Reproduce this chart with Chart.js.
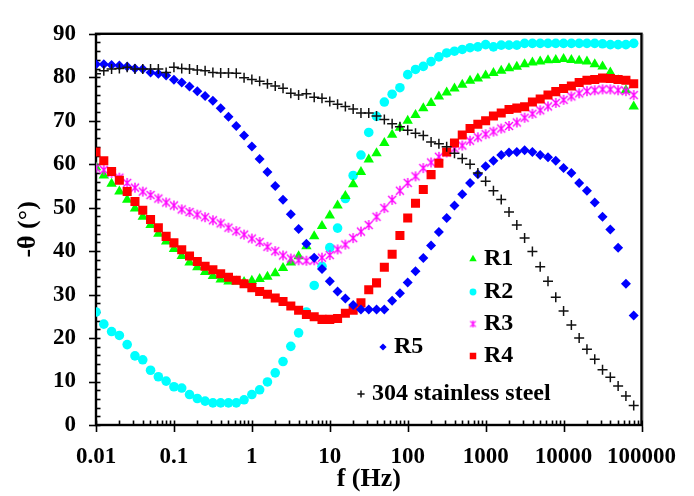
<!DOCTYPE html>
<html>
<head>
<meta charset="utf-8">
<script src="https://cdn.jsdelivr.net/npm/chart.js@4.4.1/dist/chart.umd.min.js"></script>
<style>
  html, body { margin: 0; padding: 0; background: #fff; }
  #wrap { width: 694px; height: 496px; }
</style>
</head>
<body>
<div id="wrap"><canvas id="phaseChart" width="694" height="496"></canvas></div>
<script>
// frequencies (Hz), 10 points per decade
const freqs = [
  0.01, 0.01259, 0.01585, 0.01995, 0.02512, 0.03162, 0.03981, 0.05012, 0.0631, 0.07943,
  0.1, 0.1259, 0.1585, 0.1995, 0.2512, 0.3162, 0.3981, 0.5012, 0.631, 0.7943,
  1, 1.259, 1.585, 1.995, 2.512, 3.162, 3.981, 5.012, 6.31, 7.943,
  10, 12.59, 15.85, 19.95, 25.12, 31.62, 39.81, 50.12, 63.1, 79.43,
  100, 125.9, 158.5, 199.5, 251.2, 316.2, 398.1, 501.2, 631, 794.3,
  1000, 1259, 1585, 1995, 2512, 3162, 3981, 5012, 6310, 7943,
  10000, 12590, 15850, 19950, 25120, 31620, 39810, 50120, 63100, 79430
];

const r1 = [
  59.3, 57.4, 55.5, 53.7, 51.8, 49.8, 47.9, 46.0, 44.0, 42.2,
  40.5, 38.9, 37.4, 36.3, 35.2, 34.3, 33.5, 33.0, 33.0, 32.9,
  33.2, 33.6, 34.1, 34.9, 36.1, 37.4, 38.8, 41.1, 43.4, 45.8,
  48.2, 50.5, 52.7, 55.4, 58.2, 61.1, 62.5, 64.9, 66.8, 68.4,
  70.0, 71.3, 72.9, 74.1, 75.6, 76.5, 77.4, 78.3, 79.2, 79.7,
  80.4, 81.0, 81.5, 82.1, 82.4, 83.0, 83.4, 83.6, 83.9, 84.0,
  84.2, 84.0, 83.8, 83.6, 83.0, 82.5, 81.1, 79.3, 77.0, 73.3
];
const r2 = [
  26.0, 23.2, 21.5, 20.6, 18.5, 15.9, 15.0, 12.6, 11.1, 10.1,
  8.8, 8.5, 7.0, 6.1, 5.5, 5.1, 5.1, 5.1, 5.1, 5.8,
  7.0, 8.1, 9.9, 12.0, 14.6, 18.1, 21.2, 26.0, 32.1, 36.5,
  40.8, 45.3, 52.1, 57.4, 62.1, 67.3, 71.0, 74.3, 76.1, 77.6,
  80.6, 81.8, 82.5, 83.6, 84.7, 85.6, 86.0, 86.4, 86.8, 87.0,
  87.5, 87.0, 87.4, 87.4, 87.4, 87.8, 87.8, 87.8, 87.8, 87.8,
  87.8, 87.8, 87.8, 87.8, 87.8, 87.7, 87.5, 87.5, 87.5, 87.8
];
const r3 = [
  59.2, 58.7, 58.0, 56.9, 55.7, 54.6, 53.7, 52.9, 52.1, 51.2,
  50.5, 49.6, 49.0, 48.4, 47.8, 47.1, 46.4, 45.4, 44.6, 43.8,
  42.9, 42.1, 41.0, 40.0, 39.0, 38.3, 37.9, 37.8, 37.9, 38.5,
  39.1, 40.4, 41.5, 43.0, 44.5, 46.0, 47.9, 49.9, 51.8, 53.9,
  55.7, 57.2, 59.1, 60.4, 61.7, 62.7, 63.6, 64.3, 65.4, 66.2,
  66.9, 67.5, 68.2, 68.8, 69.6, 70.7, 71.6, 72.4, 73.3, 74.1,
  74.8, 75.6, 76.3, 76.8, 77.0, 77.2, 77.2, 77.0, 76.8, 75.9
];
const r4 = [
  62.8, 60.8, 58.3, 56.3, 53.7, 51.4, 49.4, 47.3, 45.4, 43.4,
  41.9, 40.3, 38.9, 37.6, 36.5, 35.7, 34.8, 34.0, 33.3, 32.5,
  31.6, 30.7, 30.1, 29.2, 28.4, 27.4, 26.4, 25.4, 24.9, 24.3,
  24.3, 24.5, 25.7, 26.4, 28.1, 31.1, 32.7, 36.3, 39.3, 43.6,
  47.6, 51.0, 54.2, 57.6, 60.2, 62.8, 64.9, 66.7, 68.2, 69.2,
  70.0, 71.1, 71.8, 72.6, 72.9, 73.2, 74.3, 75.0, 75.9, 76.7,
  77.4, 78.0, 78.8, 79.3, 79.5, 79.8, 79.7, 79.5, 79.3, 78.5
];
const r5 = [
  83.0, 83.0, 82.8, 82.7, 82.5, 82.0, 81.9, 81.1, 80.8, 80.4,
  79.4, 78.8, 77.9, 76.8, 75.7, 74.6, 72.9, 70.9, 68.8, 66.6,
  64.1, 61.2, 58.2, 55.0, 51.8, 48.5, 45.1, 41.7, 38.5, 35.9,
  33.1, 30.7, 29.1, 27.6, 26.6, 26.6, 26.6, 26.6, 28.6, 30.3,
  32.8, 35.4, 38.4, 41.3, 44.4, 47.6, 50.5, 53.1, 55.7, 57.7,
  59.5, 60.8, 62.1, 62.7, 62.8, 63.2, 62.8, 62.1, 61.6, 60.8,
  59.1, 58.0, 55.7, 53.9, 51.2, 47.9, 45.0, 40.8, 32.5, 25.2
];
const steel304 = [
  80.8, 81.5, 81.9, 82.0, 82.3, 81.9, 81.9, 81.9, 81.9, 81.1,
  82.3, 82.0, 81.9, 81.7, 81.5, 81.1, 81.0, 81.0, 80.9, 79.9,
  79.5, 79.1, 78.5, 78.0, 77.5, 76.3, 75.9, 76.2, 75.4, 75.2,
  74.4, 73.8, 73.3, 72.7, 71.8, 71.8, 71.1, 70.3, 69.3, 68.6,
  67.8, 67.1, 66.6, 65.1, 64.7, 64.0, 62.5, 61.3, 60.0, 58.0,
  56.1, 53.9, 51.9, 49.0, 46.0, 43.0, 39.9, 36.4, 33.1, 29.4,
  26.2, 23.0, 20.0, 17.4, 15.1, 12.7, 11.0, 9.0, 6.7, 4.5
];

const xTickValues = [0.01, 0.1, 1, 10, 100, 1000, 10000, 100000];
const xTickLabels = ['0.01', '0.1', '1', '10', '100', '1000', '10000', '100000'];
const yTickValues = [0, 10, 20, 30, 40, 50, 60, 70, 80, 90];

const serif = '"Liberation Serif", "Times New Roman", serif';

// excel style "star" marker: an X with a vertical stroke
function makeStar(color, size, lw) {
  const c = document.createElement('canvas');
  c.width = size;
  c.height = size;
  const g = c.getContext('2d');
  const m = size / 2, r = size / 2 - 1;
  g.strokeStyle = color;
  g.lineWidth = lw;
  g.beginPath();
  g.moveTo(m - r * 0.8, m - r * 0.8); g.lineTo(m + r * 0.8, m + r * 0.8);
  g.moveTo(m + r * 0.8, m - r * 0.8); g.lineTo(m - r * 0.8, m + r * 0.8);
  g.moveTo(m, m - r); g.lineTo(m, m + r);
  g.stroke();
  return c;
}

const starBig = makeStar('#ff00ff', 12, 1.4);
const starSmall = makeStar('#ff00ff', 9, 1.2);

function toPoints(values) {
  return freqs.map((f, i) => ({ x: f, y: values[i] }));
}

// first dataset ends up on top
const datasets = [
  { label: '304 stainless steel', data: toPoints(steel304), pointStyle: 'cross', pointRadius: 5,
    borderColor: '#111', backgroundColor: '#111', pointBorderWidth: 1.5 },
  { label: 'R5', data: toPoints(r5), pointStyle: 'rectRot', pointRadius: 5,
    borderColor: '#0000ff', backgroundColor: '#0000ff', pointBorderWidth: 0 },
  { label: 'R4', data: toPoints(r4), pointStyle: 'rect', pointRadius: 6.4,
    borderColor: '#ff0000', backgroundColor: '#ff0000', pointBorderWidth: 0 },
  { label: 'R3', data: toPoints(r3), pointStyle: starBig, pointRadius: 6,
    borderColor: '#ff00ff', backgroundColor: '#ff00ff', pointBorderWidth: 0 },
  { label: 'R1', data: toPoints(r1), pointStyle: 'triangle', pointRadius: 6,
    borderColor: '#00ee00', backgroundColor: '#00ff00', pointBorderWidth: 0 },
  { label: 'R2', data: toPoints(r2), pointStyle: 'circle', pointRadius: 4.8,
    borderColor: '#00ffff', backgroundColor: '#00ffff', pointBorderWidth: 0 }
];

// axis box + tick marks, drawn under the points
const framePlugin = {
  id: 'frame',
  beforeDatasetsDraw(chart) {
    const { ctx, chartArea: a, scales: { x, y } } = chart;
    ctx.save();
    ctx.strokeStyle = '#000';
    ctx.lineWidth = 1.6;
    for (let v = 0; v <= 90; v += 2) {
      const py = Math.round(y.getPixelForValue(v)) + 0.5;
      ctx.beginPath();
      ctx.moveTo(v % 10 === 0 ? a.left - 7 : a.left, py);
      ctx.lineTo(a.left + 4.5, py);
      ctx.stroke();
    }
    xTickValues.forEach((dec, k) => {
      const px = Math.round(x.getPixelForValue(dec)) + 0.5;
      ctx.beginPath();
      ctx.moveTo(px, a.bottom - 4.5);
      ctx.lineTo(px, a.bottom + 7);
      ctx.stroke();
      if (k === xTickValues.length - 1) return;
      for (let m = 2; m <= 9; m++) {
        const pm = Math.round(x.getPixelForValue(dec * m)) + 0.5;
        ctx.beginPath();
        ctx.moveTo(pm, a.bottom - 4.5);
        ctx.lineTo(pm, a.bottom);
        ctx.stroke();
      }
    });
    ctx.strokeStyle = '#c8c8c8';
    ctx.lineWidth = 1;
    ctx.beginPath();
    ctx.moveTo(a.right + 2, a.top);
    ctx.lineTo(a.right + 2, a.bottom + 2);
    ctx.stroke();
    ctx.strokeStyle = '#000';
    ctx.lineWidth = 2.4;
    ctx.strokeRect(a.left, a.top, a.right - a.left, a.bottom - a.top);
    ctx.restore();
  }
};

// legend scattered inside the plot like the original
const legendPlugin = {
  id: 'looseLegend',
  afterDatasetsDraw(chart) {
    const { ctx } = chart;
    const spots = [
      { label: 'R1', x: 473, y: 259 },
      { label: 'R2', x: 473, y: 292 },
      { label: 'R3', x: 473, y: 324 },
      { label: 'R4', x: 473, y: 356 },
      { label: 'R5', x: 383, y: 347 },
      { label: '304 stainless steel', x: 361, y: 394 }
    ];
    ctx.save();
    spots.forEach(s => {
      const ds = chart.data.datasets.find(d => d.label === s.label);
      const style = ds.pointStyle === starBig ? starSmall : ds.pointStyle;
      ctx.fillStyle = ds.backgroundColor;
      ctx.strokeStyle = ds.borderColor;
      ctx.lineWidth = ds.pointBorderWidth || 1;
      Chart.helpers.drawPoint(ctx, {
        pointStyle: style, radius: ds.pointRadius * 0.72, rotation: 0,
        borderWidth: ds.pointBorderWidth
      }, s.x, s.y);
      ctx.fillStyle = '#000';
      ctx.font = 'bold 24px ' + serif;
      ctx.textAlign = 'left';
      ctx.textBaseline = 'middle';
      ctx.fillText(s.label, s.x + 11, s.y);
    });
    ctx.restore();
  }
};

new Chart(document.getElementById('phaseChart'), {
  type: 'scatter',
  data: { datasets },
  options: {
    responsive: false,
    devicePixelRatio: 1,
    animation: false,
    events: [],
    layout: { padding: { left: 0, top: 24, right: 39, bottom: 0 } },
    plugins: { legend: { display: false }, tooltip: { enabled: false } },
    scales: {
      x: {
        type: 'logarithmic',
        min: 0.01,
        max: 100000,
        afterBuildTicks: s => { s.ticks = xTickValues.map(v => ({ value: v })); },
        afterFit: s => { s.height = 71; },
        grid: { display: false, drawTicks: false },
        border: { display: false },
        ticks: {
          autoSkip: false, maxRotation: 0, padding: 18, color: '#000',
          font: { family: serif, size: 23, weight: 'bold' },
          callback: (v, i) => xTickLabels[i]
        },
        title: {
          display: true, text: 'f (Hz)', color: '#000',
          font: { family: serif, size: 26, weight: 'bold' },
          padding: { top: 0, bottom: 1 }
        }
      },
      y: {
        type: 'linear',
        min: 0,
        max: 90,
        afterBuildTicks: s => { s.ticks = yTickValues.map(v => ({ value: v })); },
        afterFit: s => { s.width = 96; },
        grid: { display: false, drawTicks: false },
        border: { display: false },
        ticks: {
          padding: 20, color: '#000',
          font: { family: serif, size: 23, weight: 'bold' }
        },
        title: {
          display: true, text: '-θ (°)', color: '#000',
          font: { family: serif, size: 26, weight: 'bold' },
          padding: { top: 13, bottom: 0 }
        }
      }
    }
  },
  plugins: [framePlugin, legendPlugin]
});
</script>
</body>
</html>
